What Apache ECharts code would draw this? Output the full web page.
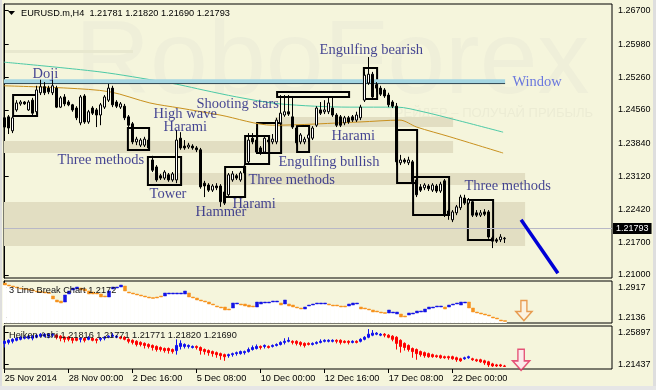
<!DOCTYPE html>
<html><head><meta charset="utf-8">
<script src="https://cdn.jsdelivr.net/npm/echarts@6/dist/echarts.min.js"></script>
<style>html,body{margin:0;padding:0;background:#f5f5dc;}#c{width:656px;height:390px;}</style>
</head><body><div id="c"></div>
<script>
// ---------- data ----------
const priceTicks = [1.21, 1.217, 1.2242, 1.2312, 1.2384, 1.2456, 1.2526, 1.2598, 1.267];
const lbTicks = [1.2136, 1.2917];
const haTicks = [1.21437, 1.25897];
const timeTickIdx = [0, 16, 32, 48, 64, 80, 96, 112];
const timeTickLabels = ['25 Nov 2014', '28 Nov 00:00', '2 Dec 16:00', '5 Dec 08:00', '10 Dec 00:00', '12 Dec 16:00', '17 Dec 08:00', '22 Dec 00:00'];
const lastPrice = 1.21793;

// EURUSD H4 candles [open, close, low, high]
const candles = [
[1.2439,1.2419,1.2413,1.2443],[1.2441,1.2417,1.2404,1.2445],[1.2411,1.2439,1.2406,1.2443],[1.2456,1.2471,1.2452,1.2477],[1.2469,1.2473,1.2465,1.2477],
[1.2473,1.2469,1.2467,1.2475],[1.2456,1.2473,1.2454,1.2477],[1.2477,1.2449,1.2445,1.2482],[1.2452,1.2499,1.2447,1.2508],[1.2493,1.2506,1.2488,1.2521],
[1.2506,1.2493,1.2488,1.2516],[1.2503,1.2495,1.2490,1.2508],[1.2493,1.2508,1.2488,1.2521],[1.2503,1.2462,1.2460,1.2508],[1.2462,1.2482,1.2460,1.2486],
[1.2484,1.2469,1.2464,1.2490],[1.2473,1.2467,1.2464,1.2477],[1.2467,1.2456,1.2452,1.2469],[1.2460,1.2439,1.2434,1.2464],[1.2428,1.2484,1.2423,1.2488],
[1.2486,1.2430,1.2426,1.2490],[1.2430,1.2452,1.2426,1.2456],[1.2460,1.2449,1.2445,1.2464],[1.2456,1.2445,1.2419,1.2460],[1.2445,1.2467,1.2423,1.2471],
[1.2462,1.2484,1.2458,1.2488],[1.2477,1.2503,1.2473,1.2512],[1.2503,1.2467,1.2462,1.2508],[1.2473,1.2464,1.2460,1.2477],[1.2462,1.2469,1.2458,1.2473],
[1.2464,1.2439,1.2434,1.2469],[1.2441,1.2423,1.2419,1.2445],[1.2426,1.2387,1.2382,1.2430],[1.2387,1.2393,1.2380,1.2398],[1.2380,1.2391,1.2376,1.2395],
[1.2380,1.2393,1.2376,1.2398],[1.2391,1.2374,1.2370,1.2395],[1.2348,1.2326,1.2322,1.2357],[1.2333,1.2305,1.2301,1.2337],[1.2314,1.2309,1.2305,1.2318],
[1.2309,1.2322,1.2305,1.2326],[1.2316,1.2305,1.2301,1.2320],[1.2305,1.2318,1.2301,1.2322],[1.2305,1.2391,1.2298,1.2413],[1.2395,1.2374,1.2370,1.2408],
[1.2378,1.2374,1.2370,1.2391],[1.2376,1.2380,1.2372,1.2385],[1.2378,1.2374,1.2370,1.2382],[1.2374,1.2370,1.2365,1.2378],[1.2370,1.2290,1.2286,1.2374],
[1.2298,1.2292,1.2268,1.2303],[1.2294,1.2283,1.2279,1.2298],[1.2283,1.2292,1.2279,1.2296],[1.2292,1.2288,1.2283,1.2298],[1.2292,1.2258,1.2247,1.2296],
[1.2279,1.2255,1.2251,1.2283],[1.2273,1.2316,1.2268,1.2320],[1.2305,1.2318,1.2301,1.2324],[1.2314,1.2309,1.2305,1.2318],[1.2305,1.2320,1.2301,1.2324],
[1.2335,1.2320,1.2316,1.2340],[1.2344,1.2391,1.2340,1.2406],[1.2395,1.2387,1.2382,1.2406],[1.2391,1.2365,1.2361,1.2417],[1.2374,1.2363,1.2359,1.2378],
[1.2365,1.2395,1.2361,1.2400],[1.2391,1.2387,1.2382,1.2400],[1.2387,1.2393,1.2382,1.2404],[1.2387,1.2434,1.2382,1.2439],[1.2428,1.2449,1.2423,1.2488],
[1.2445,1.2452,1.2441,1.2488],[1.2452,1.2447,1.2443,1.2488],[1.2441,1.2419,1.2415,1.2486],[1.2417,1.2385,1.2380,1.2421],[1.2387,1.2402,1.2382,1.2406],
[1.2387,1.2393,1.2382,1.2398],[1.2395,1.2402,1.2387,1.2406],[1.2395,1.2417,1.2391,1.2421],[1.2423,1.2460,1.2419,1.2464],[1.2456,1.2449,1.2445,1.2473],
[1.2452,1.2456,1.2447,1.2477],[1.2452,1.2471,1.2447,1.2484],[1.2460,1.2445,1.2441,1.2484],[1.2445,1.2423,1.2419,1.2449],[1.2441,1.2423,1.2419,1.2445],
[1.2428,1.2439,1.2423,1.2443],[1.2439,1.2430,1.2426,1.2443],[1.2441,1.2434,1.2430,1.2445],[1.2434,1.2445,1.2430,1.2452],[1.2439,1.2462,1.2434,1.2467],
[1.2477,1.2531,1.2473,1.2538],[1.2514,1.2533,1.2510,1.2570],[1.2533,1.2484,1.2480,1.2538],[1.2510,1.2503,1.2495,1.2516],[1.2503,1.2490,1.2486,1.2508],
[1.2499,1.2486,1.2482,1.2503],[1.2488,1.2467,1.2462,1.2493],[1.2473,1.2464,1.2460,1.2477],[1.2464,1.2344,1.2337,1.2471],[1.2342,1.2348,1.2337,1.2359],
[1.2348,1.2344,1.2340,1.2352],[1.2342,1.2348,1.2337,1.2355],[1.2344,1.2301,1.2296,1.2348],[1.2305,1.2273,1.2268,1.2309],[1.2290,1.2283,1.2279,1.2296],
[1.2288,1.2294,1.2283,1.2298],[1.2292,1.2286,1.2281,1.2296],[1.2283,1.2294,1.2279,1.2298],[1.2292,1.2281,1.2277,1.2296],[1.2281,1.2296,1.2277,1.2301],
[1.2303,1.2229,1.2225,1.2307],[1.2238,1.2231,1.2219,1.2242],[1.2219,1.2236,1.2214,1.2240],[1.2234,1.2247,1.2229,1.2251],[1.2245,1.2268,1.2240,1.2273],
[1.2266,1.2255,1.2251,1.2273],[1.2255,1.2262,1.2251,1.2266],[1.2258,1.2229,1.2225,1.2262],[1.2234,1.2229,1.2225,1.2240],[1.2229,1.2234,1.2225,1.2240],
[1.2236,1.2231,1.2227,1.2242],[1.2236,1.2182,1.2178,1.2240],[1.2180,1.2173,1.2158,1.2184],[1.2176,1.2173,1.2169,1.2180],[1.2176,1.2182,1.2171,1.2188],
[1.21781,1.21793,1.21690,1.21820]
];

// moving averages [barIndex, value]
const maFast = [[-0.2,1.2559],[23.8,1.2538],[40,1.2516],[43.8,1.2510],[49.6,1.2499],[58,1.2484],[68.8,1.2469],[86.3,1.2462],[98.1,1.2462],[104.6,1.2452],[113,1.2434],[124.6,1.2408]];
const maSlow = [[-0.2,1.2508],[15.6,1.2503],[26.3,1.2495],[36.3,1.2471],[43.8,1.2460],[53.8,1.2445],[67,1.2423],[88.8,1.2430],[98.8,1.2434],[103,1.2419],[111.3,1.2398],[124.6,1.2363]];

// Window level (upper, lower) and its span in bars
const windowLevels = [1.25178, 1.25128];
const windowSpan = [-0.2, 125.1];

// shaded zones [fromBar, toBar, priceA, priceB]
const zones = [[67.6,112.1,1.24408,1.24192],[-0.2,112.1,1.2389,1.23631],[36.3,130.1,1.2320,1.22942],[-0.2,130.1,1.22575,1.21626]];

// pattern boxes [fromBar, toBar, priceTop, priceBottom]
const boxes = [
[2.1,8.1,1.24882,1.24429],[30.8,36.1,1.24171,1.23696],[35.8,44.1,1.23545,1.22942],[55.1,60.1,1.23330,1.22683],
[60.1,66.1,1.23998,1.23394],[63.1,69.1,1.24278,1.23631],[68.1,86.1,1.24947,1.24839],[73.1,76.1,1.24214,1.23653],
[89.8,93.1,1.25464,1.24796],[98.1,103.1,1.24127,1.22985],[102.1,111.1,1.23114,1.22294],[115.8,122.1,1.22618,1.21755]
];

// pattern labels [text, bar, price]
const patternLabels = [
['Doji',6.83,1.2534],['High wave',37.1,1.2447],['Harami',39.6,1.2419],['Shooting stars',47.8,1.2469],
['Three methods',13.1,1.2348],['Tower',36.1,1.2275],['Hammer',47.6,1.2236],['Harami',56.8,1.2253],
['Three methods',60.8,1.2305],['Engulfing bullish',68.3,1.2344],['Harami',81.6,1.2400],['Engulfing bearish',78.6,1.2585],
['Window',126.8,1.2516],['Three methods',114.8,1.2292]
];

// forecast arrow line
const forecastLine = [[129.1,1.2219],[138.3,1.2104]];

// 3 Line Break [open, close]
const lineBreak = [
[1.3027,1.2976],[1.2976,1.2950],[1.2950,1.2925],[1.2925,1.2899],[1.2899,1.2873],
[1.2886,1.2860],[1.2873,1.2848],[1.2848,1.2822],[1.2822,1.2796],[1.2809,1.2783],
[1.2796,1.2771],[1.2783,1.2757],[1.2693,1.2616],[1.2591,1.2539],[1.2565,1.2514],
[1.2539,1.2719],[1.2745,1.2822],[1.2848,1.2899],[1.2873,1.2925],[1.2899,1.2848],
[1.2873,1.2822],[1.2822,1.2745],[1.2796,1.2745],[1.2771,1.2745],[1.2745,1.2668],
[1.2693,1.2668],[1.2668,1.2822],[1.2873,1.2925],[1.2899,1.2925],[1.2925,1.2976],
[1.2950,1.2822],[1.2796,1.2771],[1.2771,1.2745],[1.2745,1.2719],[1.2719,1.2693],
[1.2693,1.2668],[1.2668,1.2642],[1.2655,1.2629],[1.2668,1.2642],[1.2693,1.2668],
[1.2693,1.2771],[1.2745,1.2771],[1.2745,1.2771],[1.2745,1.2771],[1.2745,1.2771],
[1.2745,1.2822],[1.2771,1.2668],[1.2668,1.2642],[1.2642,1.2591],[1.2591,1.2565],
[1.2565,1.2539],[1.2539,1.2488],[1.2488,1.2462],[1.2437,1.2411],[1.2411,1.2385],
[1.2411,1.2334],[1.2359,1.2334],[1.2385,1.2514],[1.2488,1.2514],[1.2488,1.2462],
[1.2488,1.2437],[1.2462,1.2411],[1.2437,1.2411],[1.2411,1.2539],[1.2488,1.2539],
[1.2514,1.2539],[1.2514,1.2539],[1.2539,1.2565],[1.2539,1.2565],[1.2514,1.2462],
[1.2488,1.2591],[1.2488,1.2437],[1.2462,1.2411],[1.2411,1.2385],[1.2385,1.2359],
[1.2359,1.2411],[1.2437,1.2462],[1.2462,1.2488],[1.2488,1.2514],[1.2488,1.2514],
[1.2488,1.2514],[1.2488,1.2462],[1.2462,1.2437],[1.2462,1.2437],[1.2437,1.2411],
[1.2437,1.2411],[1.2437,1.2488],[1.2462,1.2514],[1.2488,1.2514],[1.2411,1.2359],
[1.2385,1.2359],[1.2359,1.2334],[1.2334,1.2282],[1.2308,1.2282],[1.2282,1.2257],
[1.2270,1.2244],[1.2257,1.2334],[1.2257,1.2282],[1.2231,1.2282],[1.2231,1.2154],
[1.2180,1.2154],[1.2205,1.2257],[1.2231,1.2257],[1.2257,1.2308],[1.2282,1.2308],
[1.2282,1.2359],[1.2359,1.2411],[1.2385,1.2411],[1.2411,1.2437],[1.2411,1.2437],
[1.2411,1.2359],[1.2411,1.2462],[1.2462,1.2488],[1.2488,1.2514],[1.2462,1.2539],
[1.2514,1.2539],[1.2539,1.2385],[1.2385,1.2282],[1.2282,1.2257],[1.2257,1.2231],
[1.2231,1.2205],[1.2205,1.2180],[1.2154,1.2128],[1.2128,1.2102],[1.2077,1.2051],
[1.2064,1.2038]
];
const lbSignal = [[129.8,1.2321]];

// Heiken Ashi [open, close, low, high]
const heikenAshi = [
[1.2436,1.2465,1.2378,1.2479],[1.2450,1.2479,1.2421,1.2493],[1.2465,1.2493,1.2436,1.2508],[1.2479,1.2508,1.2465,1.2522],[1.2493,1.2522,1.2479,1.2537],
[1.2508,1.2522,1.2493,1.2537],[1.2508,1.2537,1.2493,1.2551],[1.2508,1.2537,1.2479,1.2551],[1.2522,1.2551,1.2508,1.2565],[1.2537,1.2565,1.2522,1.2580],
[1.2537,1.2565,1.2522,1.2580],[1.2537,1.2565,1.2508,1.2580],[1.2551,1.2565,1.2522,1.2580],[1.2551,1.2522,1.2493,1.2565],[1.2537,1.2508,1.2465,1.2551],
[1.2522,1.2493,1.2450,1.2537],[1.2522,1.2493,1.2465,1.2537],[1.2508,1.2479,1.2436,1.2522],[1.2508,1.2479,1.2465,1.2522],[1.2493,1.2508,1.2450,1.2522],
[1.2508,1.2479,1.2450,1.2522],[1.2493,1.2522,1.2479,1.2537],[1.2508,1.2479,1.2465,1.2522],[1.2493,1.2479,1.2436,1.2508],[1.2493,1.2508,1.2465,1.2522],
[1.2508,1.2522,1.2479,1.2537],[1.2522,1.2537,1.2508,1.2551],[1.2537,1.2551,1.2522,1.2580],[1.2522,1.2537,1.2508,1.2551],[1.2522,1.2508,1.2493,1.2537],
[1.2522,1.2493,1.2479,1.2537],[1.2493,1.2465,1.2436,1.2508],[1.2479,1.2450,1.2421,1.2493],[1.2465,1.2421,1.2393,1.2479],[1.2450,1.2421,1.2393,1.2465],
[1.2436,1.2407,1.2364,1.2450],[1.2421,1.2393,1.2364,1.2436],[1.2407,1.2378,1.2335,1.2421],[1.2393,1.2350,1.2321,1.2407],[1.2378,1.2350,1.2321,1.2393],
[1.2364,1.2335,1.2306,1.2378],[1.2364,1.2335,1.2292,1.2378],[1.2350,1.2321,1.2292,1.2364],[1.2335,1.2407,1.2278,1.2493],[1.2393,1.2436,1.2350,1.2479],
[1.2393,1.2421,1.2364,1.2436],[1.2393,1.2407,1.2364,1.2421],[1.2378,1.2393,1.2364,1.2407],[1.2393,1.2378,1.2350,1.2407],[1.2378,1.2335,1.2278,1.2393],
[1.2350,1.2321,1.2278,1.2364],[1.2335,1.2306,1.2263,1.2350],[1.2321,1.2292,1.2249,1.2335],[1.2306,1.2278,1.2234,1.2321],[1.2292,1.2263,1.2206,1.2306],
[1.2278,1.2249,1.2191,1.2292],[1.2263,1.2278,1.2234,1.2292],[1.2278,1.2292,1.2249,1.2306],[1.2292,1.2306,1.2263,1.2321],[1.2292,1.2321,1.2278,1.2335],
[1.2306,1.2321,1.2278,1.2335],[1.2321,1.2350,1.2306,1.2378],[1.2350,1.2378,1.2335,1.2407],[1.2364,1.2393,1.2350,1.2421],[1.2393,1.2378,1.2350,1.2407],
[1.2393,1.2407,1.2364,1.2421],[1.2393,1.2378,1.2364,1.2407],[1.2393,1.2407,1.2378,1.2421],[1.2407,1.2421,1.2393,1.2436],[1.2421,1.2450,1.2407,1.2465],
[1.2450,1.2465,1.2421,1.2508],[1.2465,1.2479,1.2450,1.2522],[1.2465,1.2450,1.2421,1.2479],[1.2465,1.2436,1.2407,1.2479],[1.2450,1.2421,1.2393,1.2465],
[1.2436,1.2407,1.2378,1.2450],[1.2436,1.2421,1.2407,1.2450],[1.2421,1.2436,1.2407,1.2450],[1.2436,1.2450,1.2421,1.2465],[1.2450,1.2465,1.2436,1.2493],
[1.2465,1.2479,1.2450,1.2493],[1.2465,1.2479,1.2450,1.2493],[1.2465,1.2479,1.2450,1.2493],[1.2479,1.2465,1.2436,1.2493],[1.2479,1.2450,1.2421,1.2493],
[1.2465,1.2450,1.2436,1.2479],[1.2465,1.2450,1.2421,1.2479],[1.2450,1.2465,1.2436,1.2479],[1.2465,1.2450,1.2436,1.2479],[1.2465,1.2493,1.2450,1.2508],
[1.2493,1.2522,1.2479,1.2537],[1.2522,1.2565,1.2508,1.2637],[1.2551,1.2580,1.2537,1.2623],[1.2565,1.2580,1.2551,1.2594],[1.2551,1.2565,1.2537,1.2580],
[1.2565,1.2551,1.2522,1.2580],[1.2551,1.2522,1.2508,1.2565],[1.2537,1.2493,1.2465,1.2551],[1.2522,1.2436,1.2350,1.2537],[1.2479,1.2393,1.2306,1.2493],
[1.2436,1.2378,1.2335,1.2450],[1.2407,1.2350,1.2321,1.2421],[1.2364,1.2321,1.2234,1.2378],[1.2350,1.2292,1.2206,1.2364],[1.2321,1.2278,1.2249,1.2335],
[1.2306,1.2263,1.2234,1.2321],[1.2292,1.2249,1.2234,1.2306],[1.2278,1.2249,1.2234,1.2292],[1.2263,1.2249,1.2234,1.2278],[1.2263,1.2234,1.2220,1.2278],
[1.2249,1.2234,1.2220,1.2263],[1.2249,1.2234,1.2206,1.2263],[1.2249,1.2220,1.2206,1.2263],[1.2234,1.2206,1.2177,1.2249],[1.2220,1.2191,1.2177,1.2234],
[1.2220,1.2234,1.2206,1.2249],[1.2234,1.2249,1.2220,1.2263],[1.2220,1.2206,1.2191,1.2234],[1.2206,1.2191,1.2177,1.2220],[1.2206,1.2177,1.2163,1.2220],
[1.2191,1.2163,1.2134,1.2206],[1.2177,1.2134,1.2105,1.2191],[1.2148,1.2119,1.2105,1.2163],[1.2134,1.2119,1.2105,1.2148],[1.2134,1.2119,1.2105,1.2148],
[1.2119,1.2112,1.2105,1.2134]
];
const haSignal = [[129.1,1.2206]];

// ---------- chart ----------
const X_MIN = -0.175, X_MAX = 151.825;
const SANS = '"Liberation Sans", Arial, sans-serif';
const SERIF = '"Liberation Serif", "Times New Roman", serif';
const arrowPath = 'path://M5,0 L11,0 L11,11 L16,11 L8,20 L0,11 L5,11 Z';

const chart = echarts.init(document.getElementById('c'));

const gridBase = {show: true, borderColor: '#000', borderWidth: 1, backgroundColor: 'transparent'};
const grids = [
  Object.assign({left: 4, top: 4, width: 608, height: 274}, gridBase),
  Object.assign({left: 4, top: 281, width: 608, height: 42}, gridBase),
  Object.assign({left: 4, top: 326, width: 608, height: 43}, gridBase)
];

function xAx(i, visible) {
  const a = {type: 'value', gridIndex: i, min: X_MIN, max: X_MAX, splitLine: {show: false}};
  if (!visible) { a.show = false; return a; }
  a.axisLine = {show: false};
  a.axisTick = {show: true, customValues: timeTickIdx, length: 4, lineStyle: {color: '#000'}};
  a.axisLabel = {customValues: timeTickIdx, align: 'left', margin: 5, fontSize: 9.2, fontFamily: SANS, color: '#000',
    formatter: v => timeTickLabels[timeTickIdx.indexOf(Math.round(v))] || ''};
  return a;
}
function yAx(i, min, max, ticks, dec) {
  return {type: 'value', gridIndex: i, position: 'right', min: min, max: max, splitLine: {show: false},
    axisLine: {show: true, lineStyle: {color: '#000'}},
    axisTick: {show: true, length: 4, customValues: ticks, lineStyle: {color: '#000'}},
    axisLabel: {customValues: ticks, formatter: v => v.toFixed(dec), margin: 6, fontSize: 9, fontFamily: SANS, color: '#000'}};
}

const series = [
  { // shaded zones
    type: 'line', xAxisIndex: 0, yAxisIndex: 0, data: [], z: 1, silent: true,
    markArea: {silent: true, itemStyle: {color: '#e2dec2'}, label: {show: false},
      data: zones.map(z => [{coord: [z[0], z[2]]}, {coord: [z[1], z[3]]}])}
  },
  {type: 'line', xAxisIndex: 0, yAxisIndex: 0, data: maSlow, smooth: 0.3, showSymbol: false, silent: true, z: 2,
    lineStyle: {color: '#c8901e', width: 1}},
  {type: 'line', xAxisIndex: 0, yAxisIndex: 0, data: maFast, smooth: 0.3, showSymbol: false, silent: true, z: 2,
    lineStyle: {color: '#4cc9a6', width: 1}},
  {type: 'line', xAxisIndex: 0, yAxisIndex: 0, data: windowSpan.map(x => [x, windowLevels[0]]), showSymbol: false, silent: true, z: 3,
    lineStyle: {color: '#a4d6e2', width: 4}},
  {type: 'line', xAxisIndex: 0, yAxisIndex: 0, data: windowSpan.map(x => [x, windowLevels[1]]), showSymbol: false, silent: true, z: 3,
    lineStyle: {color: '#2c4450', width: 1}},
  {
    type: 'candlestick', xAxisIndex: 0, yAxisIndex: 0, z: 4, silent: true, barWidth: 3,
    data: candles.map((d, i) => [i, d[0], d[1], d[2], d[3]]),
    itemStyle: {color: '#fff', color0: '#000', borderColor: '#000', borderColor0: '#000', borderWidth: 1},
    markLine: {symbol: 'none', silent: true, animation: false,
      lineStyle: {color: '#b8b8c6', width: 1, type: 'solid'},
      label: {position: 'end', distance: 1, formatter: lastPrice.toFixed(5), color: '#fff', backgroundColor: '#000',
        padding: [1, 3, 1, 3], fontSize: 9, fontFamily: SANS},
      data: [{yAxis: lastPrice}]}
  },
  { // pattern boxes
    type: 'line', xAxisIndex: 0, yAxisIndex: 0, data: [], z: 5, silent: true,
    markArea: {silent: true, label: {show: false},
      itemStyle: {color: 'rgba(0,0,0,0)', borderColor: '#000', borderWidth: 2},
      data: boxes.map(b => [{coord: [b[0], b[2]]}, {coord: [b[1], b[3]]}])}
  },
  {type: 'line', xAxisIndex: 0, yAxisIndex: 0, data: forecastLine, showSymbol: false, silent: true, z: 6,
    lineStyle: {color: '#0000d6', width: 3.5}},
  {
    type: 'scatter', xAxisIndex: 0, yAxisIndex: 0, z: 7, silent: true, symbolSize: 1,
    itemStyle: {color: 'rgba(0,0,0,0)'},
    label: {show: true, position: 'right', distance: 0, formatter: '{b}', fontFamily: SERIF, fontSize: 14.5, color: '#16167e'},
    data: patternLabels.map(d => ({name: d[0], value: [d[1], d[2]],
      label: d[0] === 'Window' ? {color: '#4657de'} : undefined}))
  },
  // 3 line break
  {type: 'bar', xAxisIndex: 1, yAxisIndex: 1, z: 1, silent: true, barWidth: 4.2,
    itemStyle: {color: '#ffffff'},
    data: lineBreak.map((d, i) => [i, Math.min(d[0], d[1])])},
  {type: 'candlestick', xAxisIndex: 1, yAxisIndex: 1, z: 3, silent: true, barWidth: 3.4,
    itemStyle: {color: '#1414e6', color0: '#f7931e', borderColor: '#1414e6', borderColor0: '#f7931e', borderWidth: 0.5},
    data: lineBreak.map((d, i) => [i, d[0], d[1], Math.min(d[0], d[1]), Math.max(d[0], d[1])])},
  {type: 'scatter', xAxisIndex: 1, yAxisIndex: 1, z: 5, silent: true, symbol: arrowPath, symbolSize: [16, 20],
    itemStyle: {color: '#fdf1e2', borderColor: '#e4852c', borderWidth: 1.5}, data: lbSignal},
  // heiken ashi
  {type: 'candlestick', xAxisIndex: 2, yAxisIndex: 2, z: 3, silent: true, barWidth: 2.6,
    itemStyle: {color: '#1010ee', color0: '#ff0000', borderColor: '#1010ee', borderColor0: '#ff0000', borderWidth: 1},
    data: heikenAshi.map((d, i) => [i, d[0], d[1], d[2], d[3]])},
  {type: 'scatter', xAxisIndex: 2, yAxisIndex: 2, z: 5, silent: true, symbol: arrowPath, symbolSize: [17, 21],
    itemStyle: {color: '#fde9ef', borderColor: '#e02a5c', borderWidth: 1.5}, data: haSignal}
];

const graphic = [
  {type: 'text', x: 75, y: 64, z: 0, silent: true,
    style: {text: 'RoboForex', fill: '#efefd9', fontSize: 104, fontFamily: SANS, align: 'left', verticalAlign: 'middle'}},
  {type: 'text', x: 593, y: 113, z: 0, silent: true,
    style: {text: 'ТРЕЙДЕР – ПОЛУЧАЙ ПРИБЫЛЬ', fill: '#ececd4', fontSize: 13, fontFamily: SANS, align: 'right', verticalAlign: 'middle'}},
  {type: 'rect', z: 0, silent: true, shape: {x: 5, y: 50, width: 128, height: 3}, style: {fill: '#e8e8cf'}},
  {type: 'polygon', z: 50, silent: true, shape: {points: [[8, 11], [15, 11], [11.5, 15]]}, style: {fill: '#000'}},
  {type: 'text', x: 21, y: 13, z: 50, silent: true,
    style: {text: 'EURUSD.m,H4  1.21781 1.21820 1.21690 1.21793', fill: '#000', fontSize: 9.2, fontFamily: SANS, align: 'left', verticalAlign: 'middle'}},
  {type: 'text', x: 9, y: 290, z: 50, silent: true,
    style: {text: '3 Line Break Chart 1.2172', fill: '#111', fontSize: 9.2, fontFamily: SANS, align: 'left', verticalAlign: 'middle'}},
  {type: 'text', x: 9, y: 335, z: 50, silent: true,
    style: {text: 'Heiken Ashi 1.21816 1.21771 1.21771 1.21820 1.21690', fill: '#111', fontSize: 9.2, fontFamily: SANS, align: 'left', verticalAlign: 'middle'}},
  {type: 'rect', z: 100, silent: true, shape: {x: 0, y: 0, width: 2, height: 390}, style: {fill: '#dedede'}},
  {type: 'rect', z: 100, silent: true, shape: {x: 653, y: 0, width: 3, height: 390}, style: {fill: '#dedede'}},
  {type: 'rect', z: 100, silent: true, shape: {x: 0, y: 386, width: 656, height: 4}, style: {fill: '#e6e6e6'}}
];

chart.setOption({
  backgroundColor: '#f5f5dc',
  animation: false,
  grid: grids,
  xAxis: [xAx(0, false), xAx(1, false), xAx(2, true)],
  yAxis: [
    yAx(0, 1.20935, 1.26844, priceTicks, 5),
    yAx(1, 1.2000, 1.3079, lbTicks, 4),
    yAx(2, 1.20761, 1.26803, haTicks, 5)
  ],
  series: series,
  graphic: graphic
});
</script>
</body></html>
